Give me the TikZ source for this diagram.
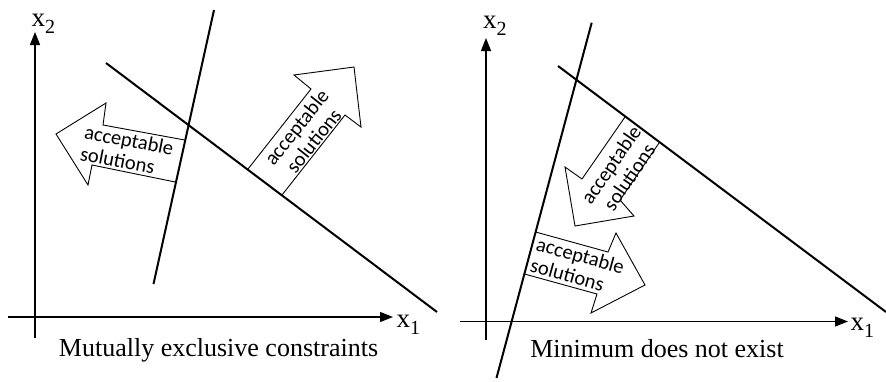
\documentclass[tikz,border=0pt]{standalone}
\usepackage{fontspec}
\setmainfont{Liberation Serif}
\newfontfamily\arrowfont{Carlito}
\usetikzlibrary{arrows.meta}
\newcommand{\xlab}[1]{x\raisebox{-7pt}{\fontsize{20}{20}\selectfont #1}}
\begin{document}
\begin{tikzpicture}[x=1pt,y=1pt,
  axis/.style={line width=1.1pt, -{Triangle[length=13pt,width=10pt]}},
  constraint/.style={line width=2pt},
  arrowbox/.style={line width=0.9pt, line join=miter},
  arrowtext/.style={font=\arrowfont\fontsize{20.5}{22}\selectfont, inner sep=0pt},
  axlabel/.style={font=\fontsize{27}{27}\selectfont, inner sep=0pt, anchor=base west},
  caption/.style={font=\fontsize{26}{28}\selectfont, inner sep=0pt, anchor=base}]
\useasboundingbox (0,0) rectangle (886,-381);

% ---------- left panel ----------
\coordinate (Ly0) at (35,-338);  \coordinate (Ly1) at (35,-32);
\coordinate (Lx0) at (8,-317);   \coordinate (Lx1) at (393,-317);
\coordinate (Ls0) at (214,-10);  \coordinate (Ls1) at (153.5,-284);
\coordinate (Ld0) at (106,-63);  \coordinate (Ld1) at (437,-312);

\draw[axis] (Ly0) -- (Ly1);
\draw[axis] (Lx0) -- (Lx1);
\draw[constraint] (Ls0) -- (Ls1);
\draw[constraint] (Ld0) -- (Ld1);

\node[axlabel] (Lx2lab) at (31.5,-26) {\xlab{2}};
\node[axlabel] (Lx1lab) at (396.5,-327) {\xlab{1}};
\node[caption] (Lcap) at (218.5,-356) {Mutually exclusive constraints};

% left-pointing arrow
\coordinate (A1) at (184.7,-140); \coordinate (A2) at (103,-125);
\coordinate (A3) at (106,-103);   \coordinate (A4) at (56,-134);
\coordinate (A5) at (88,-185);    \coordinate (A6) at (92,-165);
\coordinate (A7) at (175.2,-182);
\draw[arrowbox] (A1) -- (A2) -- (A3) -- (A4) -- (A5) -- (A6) -- (A7);
\node[arrowtext, align=left, rotate=-11] (T1) at (127,-151) {acceptable\\solutions};

% up-right arrow
\coordinate (B1) at (248,-169);  \coordinate (B2) at (311,-89);
\coordinate (B3) at (294,-75);   \coordinate (B4) at (354,-67);
\coordinate (B5) at (361,-127);  \coordinate (B6) at (345,-115);
\coordinate (B7) at (282,-195);
\draw[arrowbox] (B1) -- (B2) -- (B3) -- (B4) -- (B5) -- (B6) -- (B7);
\node[arrowtext, align=center, rotate=51.5] (T2) at (305,-134) {acceptable\\solutions};

% ---------- right panel ----------
\coordinate (Ry0) at (486,-340);  \coordinate (Ry1) at (486,-38);
\coordinate (Rx0) at (460,-321.5); \coordinate (Rx1) at (848,-321.5);
\coordinate (Rs0) at (591.7,-22.7); \coordinate (Rs1) at (496.5,-378);
\coordinate (Rd0) at (558,-66);   \coordinate (Rd1) at (886,-312);

\draw[axis] (Ry0) -- (Ry1);
\draw[axis] (Rx0) -- (Rx1);
\draw[constraint] (Rs0) -- (Rs1);
\draw[constraint] (Rd0) -- (Rd1);

\node[axlabel] (Rx2lab) at (483,-28) {\xlab{2}};
\node[axlabel] (Rx1lab) at (850.5,-330) {\xlab{1}};
\node[caption] (Rcap) at (657,-357) {Minimum does not exist};

% down-left arrow
\coordinate (C1) at (625,-117);  \coordinate (C2) at (582,-179);
\coordinate (C3) at (565,-167);  \coordinate (C4) at (575,-226);
\coordinate (C5) at (634,-216);  \coordinate (C6) at (620,-200);
\coordinate (C7) at (659,-143);
\draw[arrowbox] (C1) -- (C2) -- (C3) -- (C4) -- (C5) -- (C6) -- (C7);
\node[arrowtext, align=center, rotate=55.5] (T3) at (620,-171) {acceptable\\solutions};

% right arrow
\coordinate (D1) at (535.6,-232); \coordinate (D2) at (608,-252);
\coordinate (D3) at (616,-233);   \coordinate (D4) at (645,-285);
\coordinate (D5) at (591,-313);   \coordinate (D6) at (597,-294);
\coordinate (D7) at (524.5,-274);
\draw[arrowbox] (D1) -- (D2) -- (D3) -- (D4) -- (D5) -- (D6) -- (D7);
\node[arrowtext, align=left, rotate=-15.6] (T4) at (577.5,-266) {acceptable\\solutions};
\end{tikzpicture}
\end{document}
